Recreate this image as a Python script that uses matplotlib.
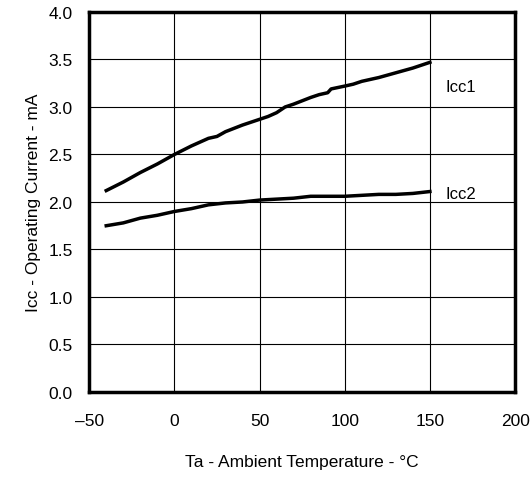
import matplotlib
matplotlib.use("Agg")
import matplotlib.pyplot as plt

# Icc vs ambient temperature
temp = [-40, -30, -20, -10, 0, 10, 20, 25, 30, 40, 50, 55, 60, 65, 70,
        80, 85, 90, 92, 100, 105, 110, 120, 130, 140, 150]
icc1 = [2.12, 2.21, 2.31, 2.40, 2.50, 2.59, 2.67, 2.69, 2.74, 2.81, 2.87,
        2.90, 2.94, 3.00, 3.03, 3.10, 3.13, 3.15, 3.19, 3.22, 3.24, 3.27,
        3.31, 3.36, 3.41, 3.47]
temp2 = [-40, -30, -20, -10, 0, 10, 20, 30, 40, 50, 60, 70, 80, 90, 100,
         110, 120, 130, 140, 150]
icc2 = [1.75, 1.78, 1.83, 1.86, 1.90, 1.93, 1.97, 1.99, 2.00, 2.02, 2.03,
        2.04, 2.06, 2.06, 2.06, 2.07, 2.08, 2.08, 2.09, 2.11]

x_ticks = [-50, 0, 50, 100, 150, 200]
x_labels = ["\u201350", "0", "50", "100", "150", "200"]
y_ticks = [0.0, 0.5, 1.0, 1.5, 2.0, 2.5, 3.0, 3.5, 4.0]

plt.rcParams["font.family"] = ["Liberation Sans", "DejaVu Sans"]

fig = plt.figure(figsize=(5.31, 4.81), dpi=100)
ax = fig.add_axes([0.168, 0.183, 0.802, 0.790])

ax.plot(temp, icc1, color="black", lw=2.5)
ax.plot(temp2, icc2, color="black", lw=2.5)

ax.text(159, 3.22, "Icc1", fontsize=12, va="center")
ax.text(159, 2.09, "Icc2", fontsize=12, va="center")

ax.set_xlim(-50, 200)
ax.set_ylim(0, 4.0)
ax.set_xticks(x_ticks)
ax.set_xticklabels(x_labels)
ax.set_yticks(y_ticks)
ax.set_yticklabels([f"{v:.1f}" for v in y_ticks])
ax.tick_params(axis="x", length=0, labelsize=12.5, pad=15)
ax.tick_params(axis="y", length=0, labelsize=12.5, pad=12)
ax.grid(True, color="black", lw=0.8)
for sp in ax.spines.values():
    sp.set_linewidth(2.5)

ax.set_xlabel("Ta - Ambient Temperature - \u00b0C", fontsize=12.5,
              labelpad=19)
ax.set_ylabel("Icc - Operating Current - mA", fontsize=12.5, labelpad=5)

fig.savefig("out.png", dpi=100)
